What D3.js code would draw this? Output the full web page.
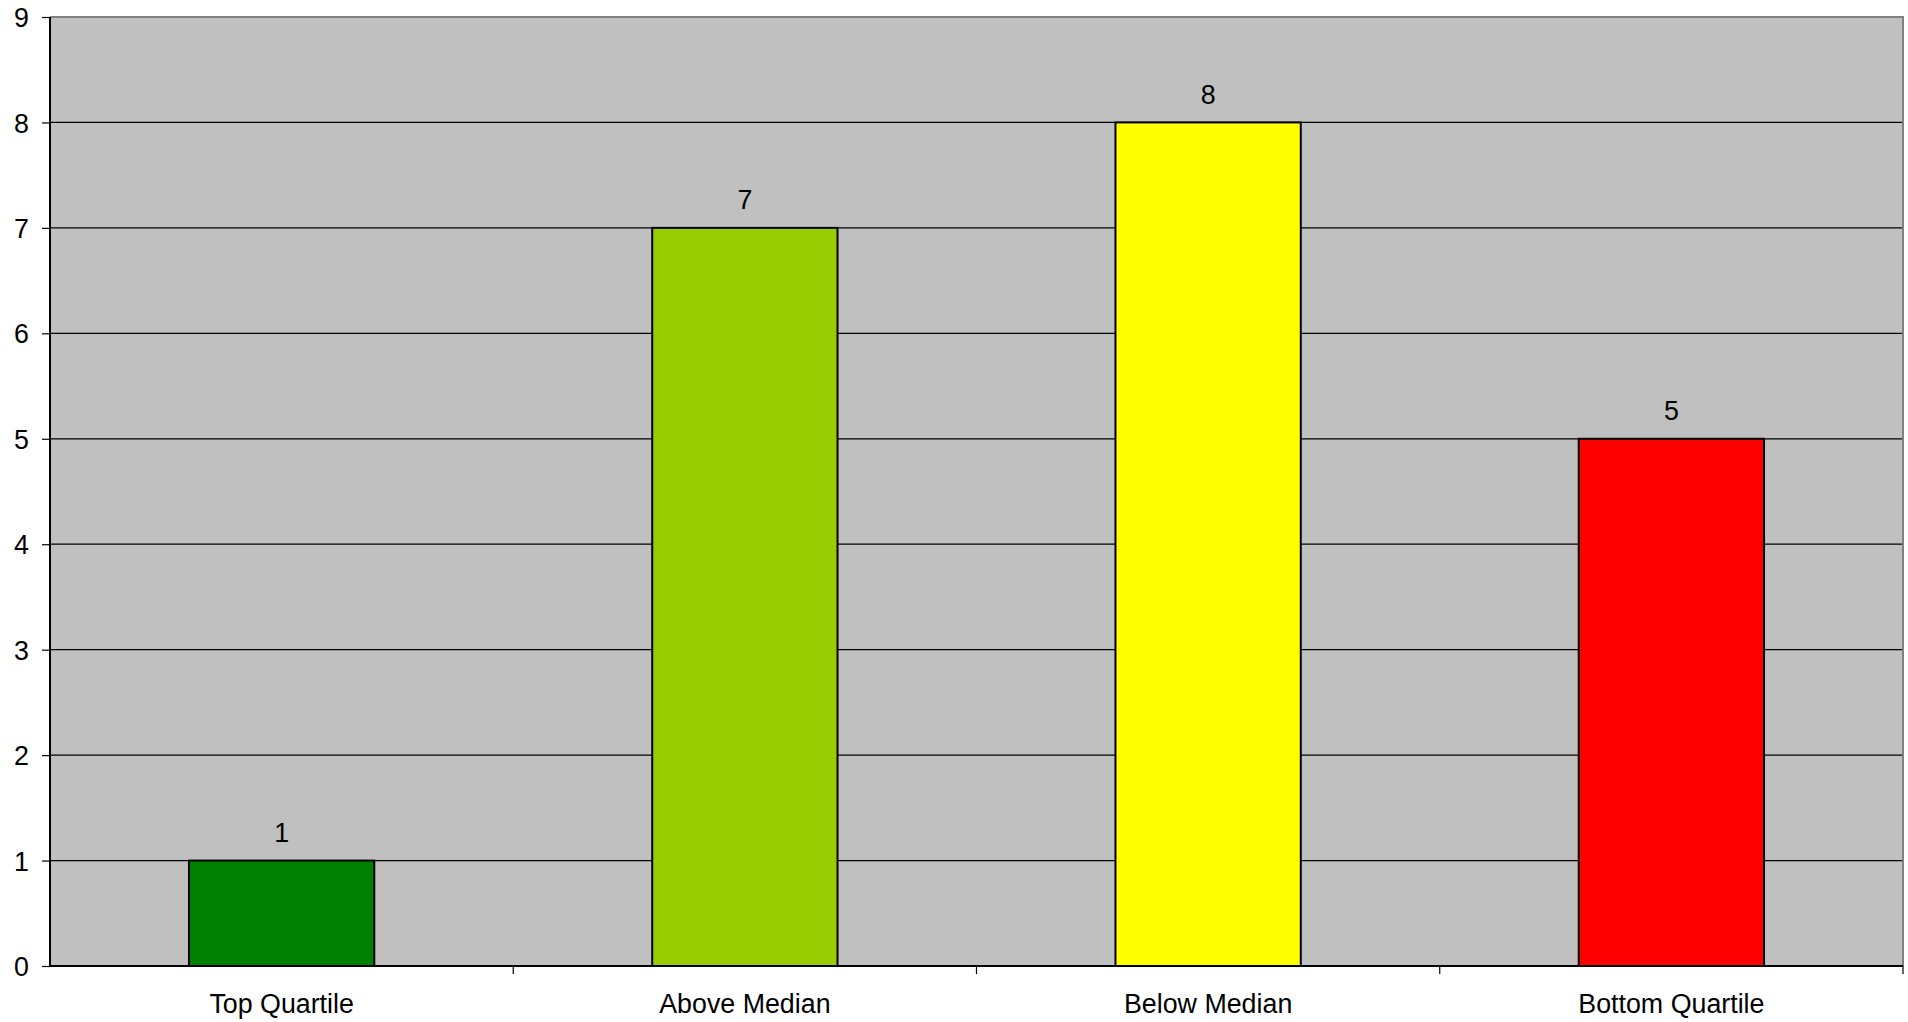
<!DOCTYPE html>
<html><head><meta charset="utf-8">
<script src="https://cdn.jsdelivr.net/npm/d3@7"></script>
<style>html,body{margin:0;padding:0;background:#fff;}svg{display:block;}</style>
</head><body>
<svg id="chart" width="1908" height="1022"></svg>
<script>
const categories = ["Top Quartile", "Above Median", "Below Median", "Bottom Quartile"];
const values = [1, 7, 8, 5];
const colors = ["#008000", "#99CC00", "#FFFF00", "#FF0000"];
const yTicks = [0, 1, 2, 3, 4, 5, 6, 7, 8, 9];

const svg = d3.select("#chart");
const L = 50, R = 1903, T = 17, B = 966;
const font = "Liberation Sans, Arial, sans-serif";
const fs = 26.8;

const x = d3.scaleBand().domain(categories).range([L, R]).paddingInner(0).paddingOuter(0);
const y = d3.scaleLinear().domain([0, 9]).range([B, T]);

svg.append("rect").attr("x", L).attr("y", T).attr("width", R - L).attr("height", B - T).attr("fill", "#C0C0C0");

// gridlines
svg.append("g").selectAll("line").data(yTicks.filter(d => d > 0 && d < 9)).join("line")
  .attr("x1", L).attr("x2", R).attr("y1", d => y(d)).attr("y2", d => y(d))
  .attr("stroke", "#000").attr("stroke-width", 1.2);

// border top & right
svg.append("path").attr("d", `M${L},${T}H${R}V${B}`).attr("fill", "none").attr("stroke", "#808080").attr("stroke-width", 2);

// bars
const bw = x.bandwidth() * 0.4;
svg.append("g").selectAll("rect").data(values).join("rect")
  .attr("x", (d, i) => x(categories[i]) + (x.bandwidth() - bw) / 2)
  .attr("y", d => y(d)).attr("width", bw).attr("height", d => B - y(d))
  .attr("fill", (d, i) => colors[i]).attr("stroke", "#000").attr("stroke-width", 2);

// value labels
svg.append("g").selectAll("text").data(values).join("text")
  .attr("x", (d, i) => x(categories[i]) + x.bandwidth() / 2)
  .attr("y", d => y(d) - 18.5)
  .attr("text-anchor", "middle").attr("font-family", font).attr("font-size", fs).attr("fill", "#000")
  .text(d => d);

// y axis
const yAxis = d3.axisLeft(y).tickValues(yTicks).tickSize(8).tickPadding(13).tickFormat(d3.format("d"));
const gy = svg.append("g").attr("transform", `translate(${L},0)`).call(yAxis);
gy.select(".domain").attr("stroke", "#000").attr("stroke-width", 2).attr("d", `M0,${T}V${B}`);
gy.selectAll(".tick line").attr("stroke", "#000").attr("stroke-width", 1.2);
gy.selectAll(".tick text").attr("font-family", font).attr("font-size", fs).attr("fill", "#000").attr("dy", "0.36em");

// x axis
const xAxis = d3.axisBottom(x).tickSize(0).tickPadding(0);
const gx = svg.append("g").attr("transform", `translate(0,${B})`).call(xAxis);
gx.select(".domain").attr("stroke", "#000").attr("stroke-width", 2).attr("d", `M${L},0H${R}`);
gx.selectAll(".tick text").attr("font-family", font).attr("font-size", fs).attr("fill", "#000").attr("dy", 0).attr("y", 46.5);
// category separator ticks
svg.append("g").selectAll("line").data(categories.slice(1).concat(["end"])).join("line")
  .attr("x1", d => d === "end" ? R : x(d)).attr("x2", d => d === "end" ? R : x(d))
  .attr("y1", B).attr("y2", B + 8).attr("stroke", "#000").attr("stroke-width", 1.2);
</script>
</body></html>
